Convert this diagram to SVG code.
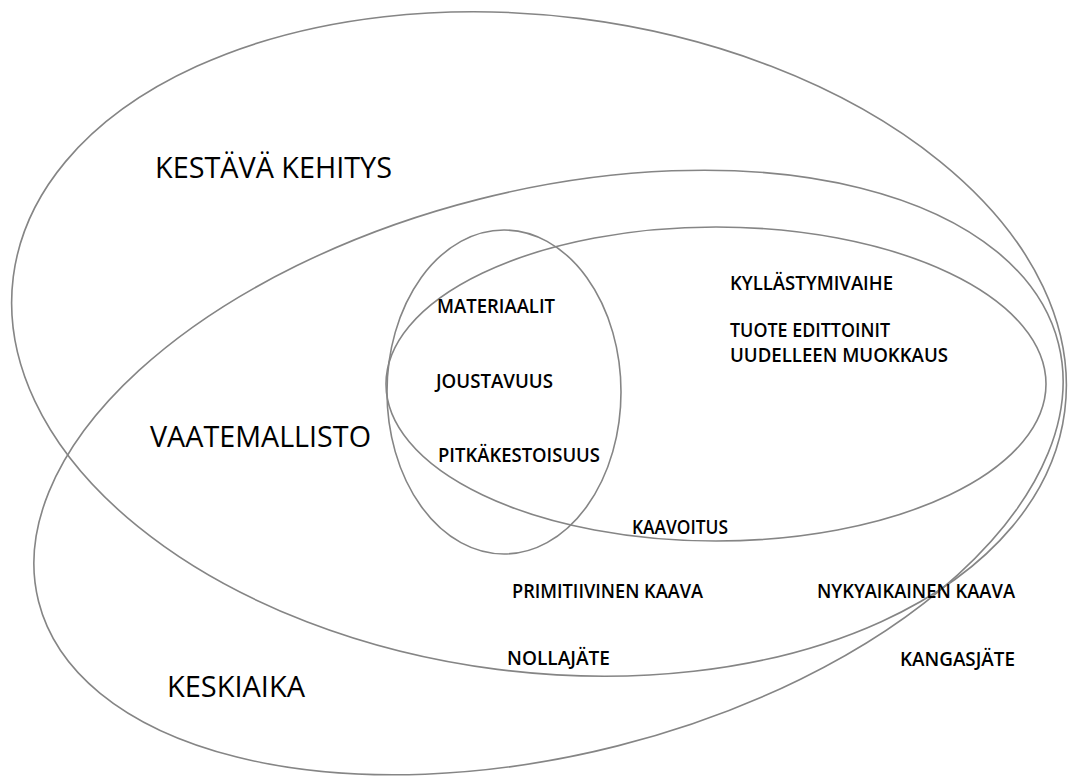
<svg xmlns="http://www.w3.org/2000/svg" width="1070" height="782" viewBox="0 0 1070 782">
<style>
.e{fill:none;stroke:#858585;stroke-width:1.6}
.big{font-family:"Open Sans","Liberation Sans",sans-serif;font-size:29px;font-weight:500;fill:#000}
.sm{font-family:"Open Sans","Liberation Sans",sans-serif;font-size:19px;font-weight:600;fill:#000}
</style>
<rect width="1070" height="782" fill="#fff"/>
<g id="connectors"></g>
<g id="kestava-kehitys">
<ellipse class="e" cx="539" cy="344" rx="530" ry="328" transform="rotate(7.3 539 344)"/>
<text class="big" x="155" y="178" textLength="237" lengthAdjust="spacingAndGlyphs">KESTÄVÄ KEHITYS</text>
</g>
<g id="keskiaika">
<ellipse class="e" cx="548.5" cy="472.5" rx="526" ry="282" transform="rotate(-14.2 548.5 472.5)"/>
<text class="big" x="167" y="697" textLength="138" lengthAdjust="spacingAndGlyphs">KESKIAIKA</text>
</g>
<g id="vaatemallisto">
<text class="big" x="150" y="447" textLength="221" lengthAdjust="spacingAndGlyphs">VAATEMALLISTO</text>
</g>
<g id="kyllastymivaihe">
<ellipse class="e" cx="716" cy="384" rx="330" ry="157"/>
<text class="sm" x="730" y="290" textLength="163" lengthAdjust="spacingAndGlyphs">KYLLÄSTYMIVAIHE</text>
<text class="sm" x="730" y="337" textLength="160" lengthAdjust="spacingAndGlyphs">TUOTE EDITTOINIT</text>
<text class="sm" x="730" y="362" textLength="218" lengthAdjust="spacingAndGlyphs">UUDELLEEN MUOKKAUS</text>
<text class="sm" x="632" y="534" textLength="96" lengthAdjust="spacingAndGlyphs">KAAVOITUS</text>
</g>
<g id="materiaalit">
<ellipse class="e" cx="504" cy="392" rx="117" ry="162"/>
<text class="sm" x="437" y="313" textLength="118" lengthAdjust="spacingAndGlyphs">MATERIAALIT</text>
<text class="sm" x="436" y="388" textLength="117" lengthAdjust="spacingAndGlyphs">JOUSTAVUUS</text>
<text class="sm" x="438" y="462" textLength="162" lengthAdjust="spacingAndGlyphs">PITKÄKESTOISUUS</text>
</g>
<g id="kaavat">
<text class="sm" x="512" y="598" textLength="191" lengthAdjust="spacingAndGlyphs">PRIMITIIVINEN KAAVA</text>
<text class="sm" x="817" y="598" textLength="198" lengthAdjust="spacingAndGlyphs">NYKYAIKAINEN KAAVA</text>
<text class="sm" x="507" y="665" textLength="103" lengthAdjust="spacingAndGlyphs">NOLLAJÄTE</text>
<text class="sm" x="900" y="666" textLength="115" lengthAdjust="spacingAndGlyphs">KANGASJÄTE</text>
</g>
</svg>
